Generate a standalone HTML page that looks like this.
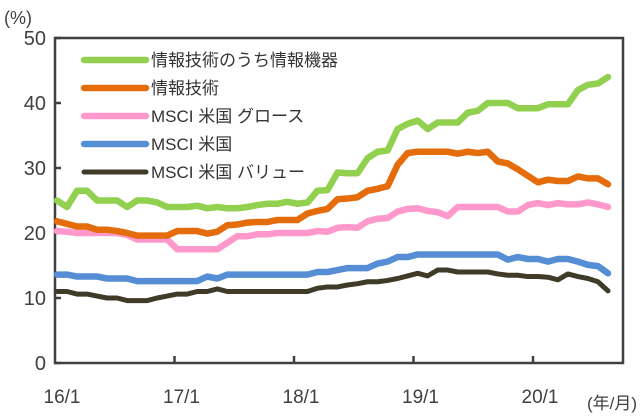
<!DOCTYPE html>
<html><head><meta charset="utf-8"><style>
body{margin:0;background:#fff}
svg{display:block;font-family:"Liberation Sans","Noto Sans CJK JP",sans-serif}
</style></head><body>
<svg id="c" width="640" height="420"></svg>
<script>
const categories=["16/1","17/1","18/1","19/1","20/1"];
const yTicks=[0,10,20,30,40,50];
const seriesNames=["情報技術のうち情報機器","情報技術","MSCI 米国 グロース","MSCI 米国","MSCI 米国 バリュー"];
const greenVals=[25,24,26.5,26.5,25,25,25,24,25,25,24.7,24,24,24,24.2,23.8,24,23.8,23.8,24,24.3,24.5,24.5,24.8,24.5,24.7,26.5,26.6,29.3,29.2,29.2,31.5,32.5,32.7,36,36.8,37.3,36,37,37,37,38.5,38.8,40,40,40,39.2,39.2,39.2,39.8,39.8,39.8,42,42.8,43,44];
const orangeVals=[21.8,21.4,21,21,20.5,20.5,20.3,20,19.6,19.6,19.6,19.6,20.3,20.3,20.3,19.9,20.2,21.2,21.3,21.6,21.7,21.7,22,22,22,23,23.4,23.7,25.2,25.3,25.5,26.5,26.8,27.2,30.5,32.3,32.5,32.5,32.5,32.5,32.2,32.5,32.3,32.5,31,30.7,29.8,28.8,27.8,28.2,28,28,28.7,28.4,28.4,27.5];
const pinkVals=[20.3,20.2,20,20,20,20,20,19.7,19,19,19,19,17.5,17.5,17.5,17.5,17.5,18.5,19.5,19.5,19.8,19.8,20,20,20,20,20.3,20.2,20.8,20.9,20.8,21.8,22.2,22.3,23.3,23.7,23.8,23.4,23.2,22.6,24,24,24,24,24,23.3,23.3,24.3,24.6,24.3,24.6,24.4,24.4,24.7,24.4,24];
const blueVals=[13.6,13.6,13.3,13.3,13.3,13,13,13,12.6,12.6,12.6,12.6,12.6,12.6,12.6,13.3,13,13.6,13.6,13.6,13.6,13.6,13.6,13.6,13.6,13.6,14,14,14.3,14.6,14.6,14.6,15.3,15.6,16.3,16.3,16.7,16.7,16.7,16.7,16.7,16.7,16.7,16.7,16.7,15.9,16.3,16,16,15.6,16,16,15.6,15.1,14.9,13.8];
const blackVals=[11,11,10.6,10.6,10.3,10,10,9.6,9.6,9.6,10,10.3,10.6,10.6,11,11,11.4,11,11,11,11,11,11,11,11,11,11.5,11.7,11.7,12,12.2,12.5,12.5,12.7,13,13.4,13.8,13.4,14.3,14.3,14,14,14,14,13.7,13.5,13.5,13.3,13.3,13.2,12.8,13.7,13.3,13,12.5,11.1];

const NS="http://www.w3.org/2000/svg";
const svg=document.getElementById('c');
const L=55,T=38,R=623,B=363;
const x=i=>57+i*(551/55);
const y=v=>B-(v/50)*(B-T);
function mk(tag,attrs){const e=document.createElementNS(NS,tag);for(const k in attrs)e.setAttribute(k,attrs[k]);svg.appendChild(e);return e;}

const frame=mk('rect',{x:L,y:T,width:R-L,height:B-T,fill:'none',stroke:'#404040','stroke-width':2.5});



yTicks.forEach(v=>{
  const t=mk('line',{x1:L,x2:L+6,y1:y(v),y2:y(v),stroke:'#404040','stroke-width':2.5});
  
  
  const lb=mk('text',{x:46,y:y(v)+7,'text-anchor':'end','font-size':20,fill:'#404040'});
  lb.textContent=v;
  
  
});
categories.forEach((c,k)=>{
  const px=L+k*119.5;
  if(k>0){const t=mk('line',{x1:px,x2:px,y1:B,y2:B-7,stroke:'#404040','stroke-width':2.5});
  
  }
  const lb=mk('text',{x:px+7,y:403,'text-anchor':'middle','font-size':19,fill:'#404040'});
  lb.textContent=c;
  
  
});
const yu=mk('text',{x:4,y:24,'font-size':18,fill:'#404040'});yu.textContent='(%)';


const xu=mk('text',{x:637,y:409,'text-anchor':'end','font-size':17,fill:'#404040'});xu.textContent='(年/月)';



const series=[[greenVals,'#92d050',6.5],[orangeVals,'#e46c0a',6.5],[pinkVals,'#ff99cc',6.5],[blueVals,'#558ed5',6.5],[blackVals,'#403a28',5]];
const keys=['it-hardware','it','msci-us-growth','msci-us','msci-us-value'];
for(let s=4;s>=0;s--){
  const [vals,col,w]=series[s];
  const p=mk('polyline',{points:vals.map((v,i)=>x(i)+','+y(v)).join(' '),fill:'none',stroke:col,'stroke-width':w,'stroke-linejoin':'round','stroke-linecap':'round'});
  
  
}
seriesNames.forEach((n,s)=>{
  const yy=60+s*28;
  const ln=mk('line',{x1:84,x2:146,y1:yy,y2:yy,stroke:series[s][1],'stroke-width':series[s][2],'stroke-linecap':'round'});
  
  
  const tx=mk('text',{x:151,y:yy+6,'font-size':17,fill:'#333'});
  tx.textContent=n;
  
  
});
</script>
</body></html>
